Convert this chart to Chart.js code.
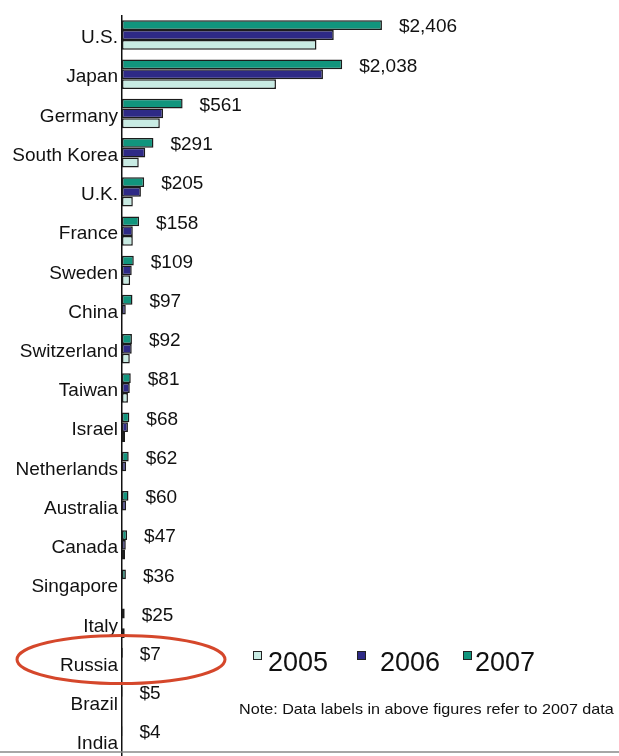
<!DOCTYPE html>
<html>
<head>
<meta charset="utf-8">
<script src="https://cdn.jsdelivr.net/npm/chart.js@4"></script>
<style>
  html, body { margin: 0; padding: 0; background: #fff; overflow: hidden; width: 619px; height: 756px; }
  #wrap { position: absolute; left: 0; top: 0; width: 619px; height: 776px; }
  .legend { position: absolute; top: 647px; font: 27px "Liberation Sans", Arial, sans-serif; color: #111; }
  .legend span.box { position: absolute; top: 4px; width: 7px; height: 7px; border: 1px solid #222; }
  .note { position: absolute; left: 239px; top: 700px; font: 15px "Liberation Sans", Arial, sans-serif; color: #111;
    white-space: nowrap; transform: scaleX(1.078); transform-origin: left top; }
</style>
</head>
<body>
<div id="wrap"><canvas id="chart"></canvas></div>
<div class="legend" style="left:253px"><span class="box" style="left:0;background:#c8ebe3"></span><span style="margin-left:15px">2005</span></div>
<div class="legend" style="left:357px"><span class="box" style="left:0;background:#2e2a86"></span><span style="margin-left:23px">2006</span></div>
<div class="legend" style="left:463px"><span class="box" style="left:0;background:#11957d"></span><span style="margin-left:12px">2007</span></div>
<div class="note">Note: Data labels in above figures refer to 2007 data</div>
<script>
// Top 19 countries, values in $ (2007 values match the data labels)
const countries = ['U.S.', 'Japan', 'Germany', 'South Korea', 'U.K.', 'France', 'Sweden', 'China',
  'Switzerland', 'Taiwan', 'Israel', 'Netherlands', 'Australia', 'Canada', 'Singapore', 'Italy',
  'Russia', 'Brazil', 'India'];
const v2007 = [2406, 2038, 561, 291, 205, 158, 109, 97, 92, 81, 68, 62, 60, 47, 36, 25, 7, 5, 4];
const v2006 = [1960, 1860, 380, 215, 175, 100, 90, 35, 90, 72, 55, 38, 38, 35, null, null, null, null, null];
const v2005 = [1800, 1425, 350, 155, 100, 100, 75, null, 72, 55, 28, null, null, 28, null, 25, null, null, null];

const FONT = '"Liberation Sans", Arial, sans-serif';

// $ labels to the right of the 2007 bars
const valueLabels = {
  id: 'valueLabels',
  afterDatasetsDraw(chart) {
    const ctx = chart.ctx;
    const meta = chart.getDatasetMeta(0);
    ctx.save();
    ctx.font = '19px ' + FONT;
    ctx.fillStyle = '#111';
    ctx.textBaseline = 'middle';
    meta.data.forEach((bar, i) => {
      ctx.fillText('$' + v2007[i].toLocaleString('en-US'), bar.x + 17, bar.y + 2);
    });
    ctx.restore();
  }
};

// red ring around Russia + bottom rule
const extras = {
  id: 'extras',
  afterDraw(chart) {
    const ctx = chart.ctx;
    const y = chart.scales.y.getPixelForValue(countries.indexOf('Russia'));
    ctx.save();
    ctx.strokeStyle = '#d5472b';
    ctx.lineWidth = 3;
    ctx.beginPath();
    ctx.ellipse(121, y - 3, 104, 24, 0, 0, Math.PI * 2);
    ctx.stroke();
    ctx.strokeStyle = '#888';
    ctx.lineWidth = 1.5;
    ctx.beginPath();
    ctx.moveTo(0, 752);
    ctx.lineTo(619, 752);
    ctx.stroke();
    ctx.restore();
  }
};

const barStyle = { borderColor: '#1c1c1c', borderWidth: 1.5, borderSkipped: false,
  categoryPercentage: 0.75, barPercentage: 1.0 };

new Chart(document.getElementById('chart').getContext('2d'), {
  type: 'bar',
  data: {
    labels: countries,
    datasets: [
      { label: '2007', data: v2007, backgroundColor: '#11957d', ...barStyle },
      { label: '2006', data: v2006, backgroundColor: '#2e2a86', ...barStyle },
      { label: '2005', data: v2005, backgroundColor: '#c8ebe3', ...barStyle }
    ]
  },
  options: {
    indexAxis: 'y',
    responsive: true,
    maintainAspectRatio: false,
    animation: false,
    layout: { padding: { top: 9, bottom: 0, left: 0, right: 0 } },
    plugins: { legend: { display: false }, tooltip: { enabled: false } },
    scales: {
      x: { display: false, min: 0, max: 4600 },
      y: {
        grid: { display: false, drawTicks: false },
        border: { display: true, color: '#111', width: 1.5 },
        ticks: { color: '#111', font: { family: FONT, size: 19 }, padding: 4, labelOffset: 3 },
        afterFit(scale) { scale.width = 122; }
      }
    }
  },
  plugins: [valueLabels, extras]
});
</script>
</body>
</html>
